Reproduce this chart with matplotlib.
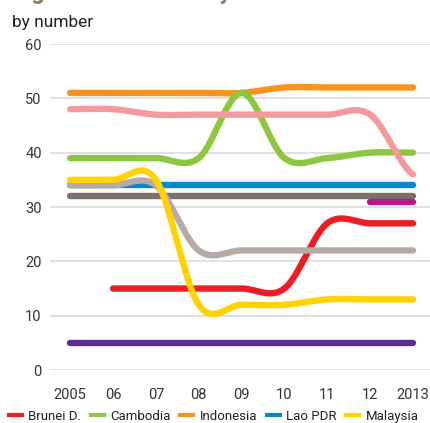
import numpy as np
import matplotlib
matplotlib.use("Agg")
import matplotlib.pyplot as plt
from matplotlib.lines import Line2D

plt.rcParams['font.family'] = ['Roboto', 'DejaVu Sans']

# Datos (número de pagos anuales)
years = [2005, 2006, 2007, 2008, 2009, 2010, 2011, 2012, 2013]
year_labels = ["2005", "06", "07", "08", "09", "10", "11", "12", "2013"]

brunei = [None, 15, 15, 15, 15, 15, 27, 27, 27]
cambodia = [39, 39, 39, 39, 51, 39, 39, 40, 40]
indonesia = [51, 51, 51, 51, 51, 52, 52, 52, 52]
lao = [34, 34, 34, 34, 34, 34, 34, 34, 34]
malaysia = [35, 35, 35, 12, 12, 12, 13, 13, 13]
myanmar = [5, 5, 5, 5, 5, 5, 5, 5, 5]
philippines = [48, 48, 47, 47, 47, 47, 47, 47, 36]
singapore = [32, 32, 32, 32, 32, 32, 32, 32, 32]
thailand = [34, 34, 34, 22, 22, 22, 22, 22, 22]
vietnam = [None, None, None, None, None, None, None, 31, 31]

# (nombre, valores, color, en leyenda)
series = [
    ("Myanmar", myanmar, "#5c2d91", False),
    ("Singapore", singapore, "#7d6f6b", False),
    ("Lao PDR", lao, "#0089cf", True),
    ("Indonesia", indonesia, "#f7941d", True),
    ("Cambodia", cambodia, "#8dc63f", True),
    ("Philippines", philippines, "#f4999e", False),
    ("Vietnam", vietnam, "#b5198c", False),
    ("Brunei D.", brunei, "#ee1c25", True),
    ("Thailand", thailand, "#b5aaa6", False),
    ("Malaysia", malaysia, "#ffd200", True),
]
legend_order = ["Brunei D.", "Cambodia", "Indonesia", "Lao PDR", "Malaysia"]


# Curva suavizada tipo Catmull-Rom entre los puntos
def suavizar(x, y, n=30):
    x = np.asarray(x, float)
    y = np.asarray(y, float)
    if len(x) < 2:
        return x, y
    m = np.zeros(len(y))
    for i in range(len(y)):
        a = y[max(i - 1, 0)]
        b = y[min(i + 1, len(y) - 1)]
        m[i] = (b - a) / 2
    xs, ys = [], []
    for i in range(len(x) - 1):
        t = np.linspace(0, 1, n, endpoint=(i == len(x) - 2))
        h00 = 2 * t**3 - 3 * t**2 + 1
        h10 = t**3 - 2 * t**2 + t
        h01 = -2 * t**3 + 3 * t**2
        h11 = t**3 - t**2
        xs.append(x[i] + t * (x[i + 1] - x[i]))
        ys.append(h00 * y[i] + h10 * m[i] + h01 * y[i + 1] + h11 * m[i + 1])
    return np.concatenate(xs), np.concatenate(ys)


fig = plt.figure(figsize=(4.31, 4.23), dpi=100)
ax = fig.add_axes([50 / 431, 53 / 423, 381 / 431, 326 / 423])

handles = {}
for nombre, vals, color, en_leyenda in series:
    xv = [yr for yr, v in zip(years, vals) if v is not None]
    yv = [v for v in vals if v is not None]
    xs, ys = suavizar(xv, yv)
    ax.plot(xs, ys, color=color, linewidth=4.6, solid_capstyle='round',
            solid_joinstyle='round', clip_on=False, zorder=3)
    handles[nombre] = Line2D([], [], color=color, linewidth=3)

ax.set_xlim(2004.53, 2013.42)
ax.set_ylim(0, 60)
ax.set_yticks(range(0, 61, 10))
ax.set_xticks(years)
ax.set_xticklabels(year_labels)
ax.grid(axis='y', color='#dddddd', linewidth=1.3, zorder=0)
ax.set_axisbelow(True)
for s in ax.spines.values():
    s.set_visible(False)
ax.tick_params(length=0, labelsize=10.5, colors='#333333')
ax.tick_params(axis='y', pad=6)
ax.tick_params(axis='x', pad=13)

fig.text(12 / 431, 1 - 22 / 423, "by number", fontsize=12.5, color='#222222',
         va='center', ha='left')
fig.text(12 / 431, 1 + 1 / 423, "Figure 4: Annual Payments", fontsize=17,
         fontweight='bold', color='#94835a', va='baseline', ha='left')

fig.legend([handles[n] for n in legend_order], legend_order, ncol=5,
           loc='center left', bbox_to_anchor=(6 / 431, 1 - 416 / 423),
           frameon=False, fontsize=9.5, handlelength=1.0, handletextpad=0.5,
           columnspacing=0.7, borderaxespad=0, borderpad=0.2,
           labelcolor='#222222')

fig.savefig("out.png", dpi=100)
